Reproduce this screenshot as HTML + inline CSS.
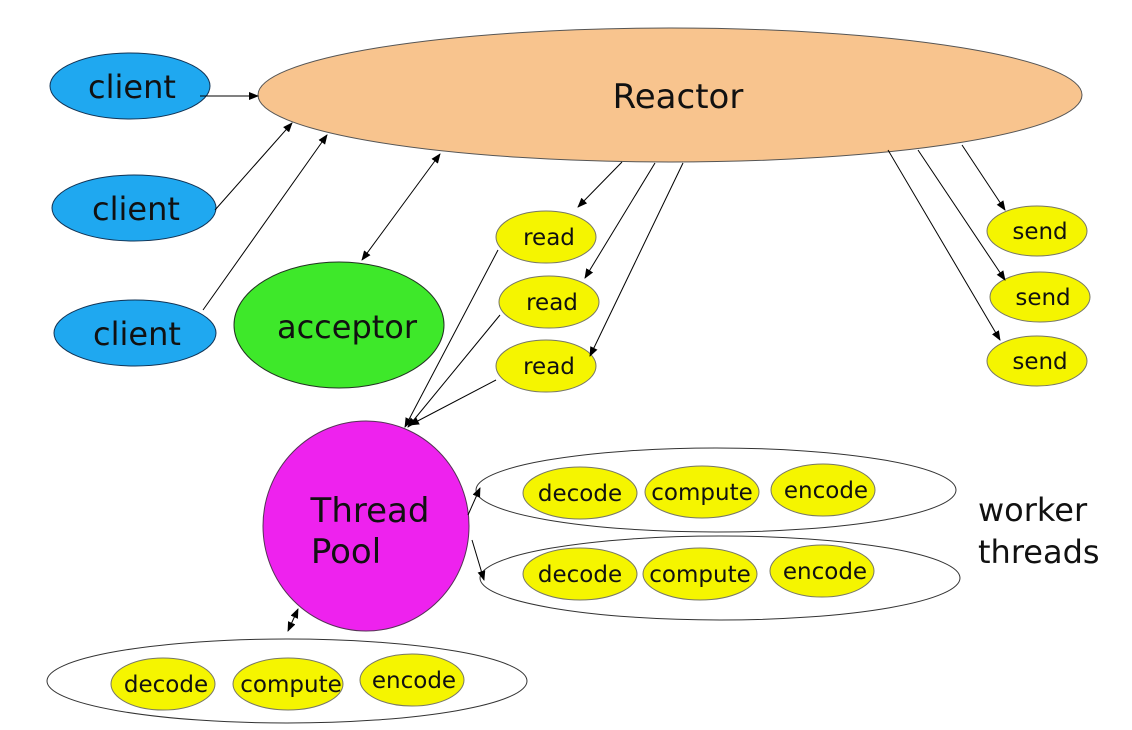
<!DOCTYPE html>
<html><head><style>body{margin:0;background:#fff}svg{display:block}text{font-family:"DejaVu Sans","Liberation Sans",sans-serif;fill:#111}</style></head>
<body>
<svg width="1132" height="730" viewBox="0 0 1132 730" xmlns="http://www.w3.org/2000/svg">
<defs><marker id="a" markerWidth="10" markerHeight="8" refX="9" refY="4" orient="auto-start-reverse" markerUnits="userSpaceOnUse"><path d="M0,0L10,4L0,8z" fill="#000"/></marker></defs>
<rect width="1132" height="730" fill="#fff"/>
<ellipse cx="670" cy="95" rx="412" ry="67" fill="#f8c48e" stroke="#555"/>
<text x="678" y="108" font-size="34" text-anchor="middle">Reactor</text>
<g fill="#1fa8f0" stroke="#135">
<ellipse cx="130" cy="86" rx="80" ry="33"/><ellipse cx="134" cy="208" rx="82" ry="33"/><ellipse cx="135" cy="333" rx="81" ry="33"/></g>
<g font-size="32" text-anchor="middle"><text x="132" y="98">client</text><text x="136" y="220">client</text><text x="137" y="345">client</text></g>
<ellipse cx="339" cy="325" rx="105" ry="63" fill="#3ee82a" stroke="#232"/>
<text x="347" y="338" font-size="32" text-anchor="middle">acceptor</text>
<g fill="#f5f500" stroke="#776"><ellipse cx="546" cy="237" rx="50" ry="26"/><ellipse cx="549" cy="302" rx="50" ry="26"/><ellipse cx="546" cy="366" rx="50" ry="26"/>
<ellipse cx="1037" cy="231" rx="50" ry="25"/><ellipse cx="1040" cy="297" rx="50" ry="25"/><ellipse cx="1037" cy="361" rx="50" ry="25"/></g>
<g font-size="23" text-anchor="middle"><text x="549" y="245">read</text><text x="552" y="310">read</text><text x="549" y="374">read</text>
<text x="1040" y="239">send</text><text x="1043" y="305">send</text><text x="1040" y="369">send</text></g>
<ellipse cx="366" cy="526" rx="103" ry="105" fill="#ee22ee" stroke="#535"/>
<text x="370" y="522" font-size="34" text-anchor="middle">Thread</text>
<text x="346" y="563" font-size="34" text-anchor="middle">Pool</text>
<g fill="none" stroke="#333"><ellipse cx="716" cy="490" rx="240" ry="42"/><ellipse cx="720" cy="578" rx="240" ry="42"/><ellipse cx="287" cy="681" rx="240" ry="42"/></g>
<g fill="#f5f500" stroke="#776">
<ellipse cx="580" cy="493" rx="57" ry="26"/><ellipse cx="702" cy="492" rx="57" ry="26"/><ellipse cx="823" cy="490" rx="52" ry="26"/>
<ellipse cx="580" cy="574" rx="57" ry="26"/><ellipse cx="700" cy="574" rx="57" ry="26"/><ellipse cx="822" cy="571" rx="52" ry="26"/>
<ellipse cx="163" cy="684" rx="52" ry="26"/><ellipse cx="288" cy="684" rx="55" ry="26"/><ellipse cx="412" cy="680" rx="52" ry="26"/></g>
<g font-size="23" text-anchor="middle">
<text x="580" y="501">decode</text><text x="702" y="500">compute</text><text x="826" y="498">encode</text>
<text x="580" y="582">decode</text><text x="700" y="582">compute</text><text x="825" y="579">encode</text>
<text x="166" y="692">decode</text><text x="291" y="692">compute</text><text x="414" y="688">encode</text></g>
<text x="978" y="521" font-size="32">worker</text><text x="978" y="563" font-size="32">threads</text>
<g stroke="#000" stroke-width="1" fill="none" marker-end="url(#a)">
<line x1="200" y1="96" x2="258" y2="96"/>
<line x1="215" y1="210" x2="292" y2="123"/>
<line x1="203" y1="310" x2="327" y2="135"/>
<line x1="362" y1="260" x2="440" y2="154" marker-start="url(#a)"/>
<line x1="622" y1="162" x2="578" y2="207"/>
<line x1="655" y1="163" x2="585" y2="278"/>
<line x1="683" y1="163" x2="590" y2="356"/>
<line x1="498" y1="250" x2="405" y2="427"/>
<line x1="500" y1="315" x2="408" y2="427"/>
<line x1="496" y1="380" x2="410" y2="425"/>
<line x1="962" y1="145" x2="1005" y2="210"/>
<line x1="918" y1="150" x2="1005" y2="280"/>
<line x1="888" y1="150" x2="1000" y2="340"/>
<line x1="468" y1="515" x2="480" y2="488"/>
<line x1="472" y1="540" x2="484" y2="580"/>
<line x1="288" y1="631" x2="298" y2="609" marker-start="url(#a)"/>
</g>
</svg>
</body></html>
